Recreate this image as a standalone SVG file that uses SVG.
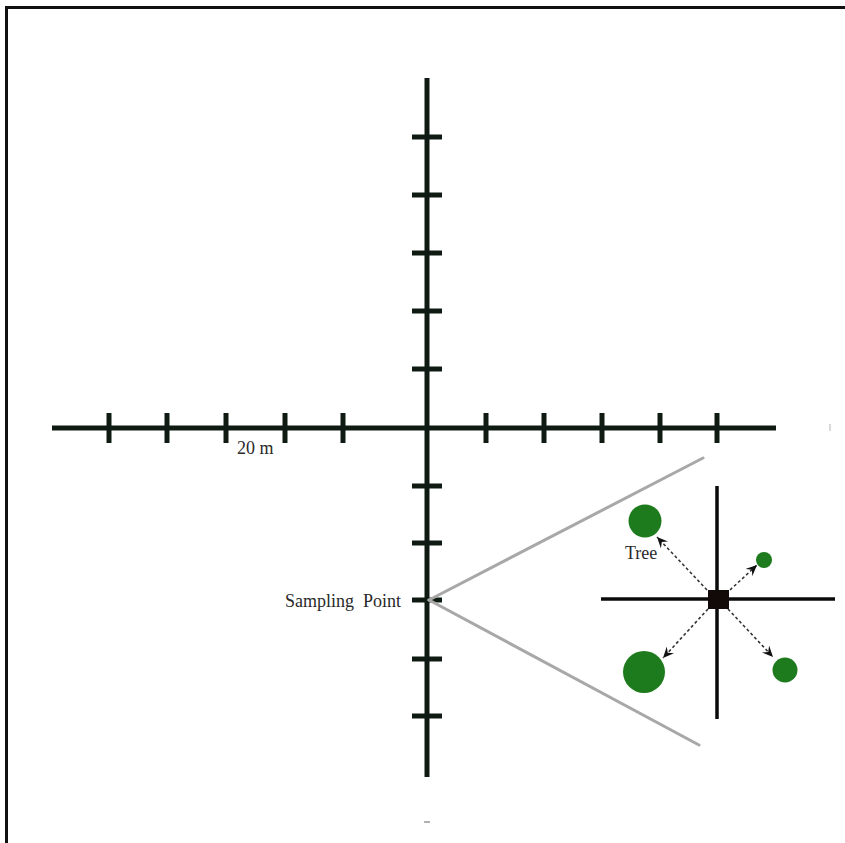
<svg xmlns="http://www.w3.org/2000/svg" width="845" height="843" viewBox="0 0 845 843">
<style>
.ax{stroke:#0f1a12;stroke-width:5;fill:none}
.tk{stroke:#0f1a12;stroke-width:5}
.gr{stroke:#a8a8a8;stroke-width:3;fill:none;stroke-linecap:round}
.ix{stroke:#0a0a0a;stroke-width:3.5}
.da{stroke:#333;stroke-width:1.6;stroke-dasharray:3,2.5;fill:none}
.tree{fill:#1d7a1d}
.lb{font-family:"Liberation Serif","Times New Roman",serif;font-size:18px;fill:#2a2a2a}
</style>
<defs>
<marker id="ah" viewBox="0 0 12 10" refX="11" refY="5" markerWidth="12" markerHeight="10" markerUnits="userSpaceOnUse" orient="auto">
<path d="M0,0 L11,5 L0,10 L4,5 Z" fill="#111"/>
</marker>
</defs>
<rect width="845" height="843" fill="#fff"/>
<g id="frame">
<path d="M6.5,843 V7.5 H845" stroke="#111" stroke-width="3" fill="none"/>
</g>
<g id="axes">
<line class="ax" x1="427" y1="78" x2="427" y2="777"/>
<line class="ax" x1="52" y1="428" x2="776" y2="428"/>
<g class="tk">
<line x1="412" y1="137" x2="442" y2="137"/>
<line x1="412" y1="195" x2="442" y2="195"/>
<line x1="412" y1="253" x2="442" y2="253"/>
<line x1="412" y1="311" x2="442" y2="311"/>
<line x1="412" y1="369" x2="442" y2="369"/>
<line x1="412" y1="486" x2="442" y2="486"/>
<line x1="412" y1="543" x2="442" y2="543"/>
<line x1="412" y1="600" x2="442" y2="600"/>
<line x1="412" y1="659" x2="442" y2="659"/>
<line x1="412" y1="716" x2="442" y2="716"/>
<line x1="109" y1="413" x2="109" y2="443"/>
<line x1="167" y1="413" x2="167" y2="443"/>
<line x1="226" y1="413" x2="226" y2="443"/>
<line x1="285" y1="413" x2="285" y2="443"/>
<line x1="343" y1="413" x2="343" y2="443"/>
<line x1="486" y1="413" x2="486" y2="443"/>
<line x1="544" y1="413" x2="544" y2="443"/>
<line x1="602" y1="413" x2="602" y2="443"/>
<line x1="660" y1="413" x2="660" y2="443"/>
<line x1="717" y1="413" x2="717" y2="443"/>
</g>
<line x1="424" y1="822" x2="430" y2="822" stroke="#999" stroke-width="1.5"/>
<line x1="830" y1="424" x2="830" y2="431" stroke="#ccc" stroke-width="1.5"/>
</g>
<g id="zoom-lines">
<line class="gr" x1="429" y1="600" x2="703" y2="458"/>
<line class="gr" x1="429" y1="600" x2="699" y2="745"/>
</g>
<g id="labels">
<text class="lb" x="237" y="454">20 m</text>
<text class="lb" x="285" y="607" xml:space="preserve">Sampling  Point</text>
<text class="lb" x="625" y="559">Tree</text>
</g>
<g id="inset">
<line class="ix" x1="717" y1="486" x2="717" y2="719"/>
<line class="ix" x1="601" y1="599" x2="835" y2="599"/>
<rect x="708" y="590" width="21" height="19" fill="#120a08"/>
</g>
<g id="trees">
<circle class="tree" cx="645" cy="521" r="16.5"/>
<circle class="tree" cx="764" cy="560" r="8"/>
<circle class="tree" cx="644" cy="672" r="21"/>
<circle class="tree" cx="785" cy="670" r="12.5"/>
</g>
<g id="connectors">
<line class="da" x1="707" y1="590" x2="657" y2="537" marker-end="url(#ah)"/>
<line class="da" x1="730" y1="590" x2="757" y2="565" marker-end="url(#ah)"/>
<line class="da" x1="708" y1="609" x2="663" y2="658" marker-end="url(#ah)"/>
<line class="da" x1="728" y1="609" x2="773" y2="657" marker-end="url(#ah)"/>
</g>
</svg>
